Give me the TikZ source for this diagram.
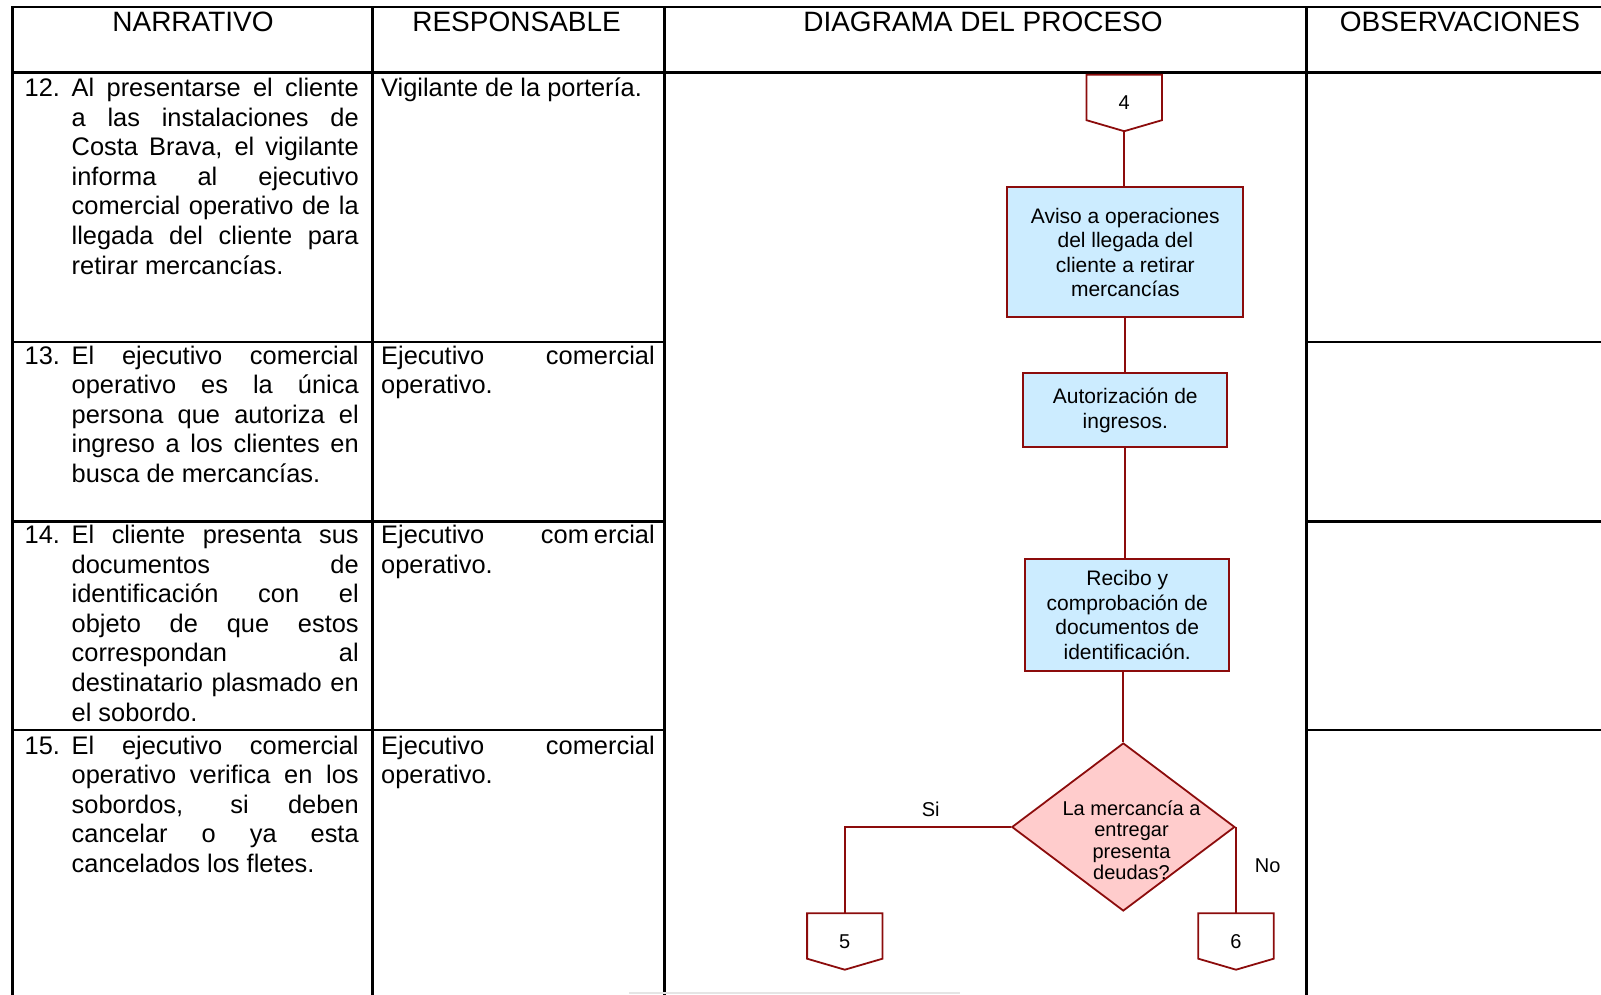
\documentclass[tikz,border=0pt]{standalone}
\usepackage{fontspec}
\setmainfont{Liberation Sans}
\usetikzlibrary{shapes.geometric}

\definecolor{flowred}{RGB}{140,12,12}
\definecolor{procblue}{RGB}{204,236,255}
\definecolor{decpink}{RGB}{255,204,204}

% justified line of a numbered narrative item (indented under the number)
\newcommand\narline[1]{\hspace*{47pt}\makebox[287pt][s]{#1}\\}
\newcommand\narfirst[2]{\makebox[47pt][l]{#1}\makebox[287pt][s]{#2}\\}
\newcommand\narlast[1]{\hspace*{47pt}#1}
\newcommand\respline[1]{\makebox[273.5pt][s]{#1}\\}

\tikzset{
  grid/.style={line width=2.9pt, black, line cap=rect},
  flow/.style={draw=flowred, line width=1.8pt},
  head/.style={anchor=base, inner sep=0pt, font=\fontsize{28}{30}\selectfont},
  cell/.style={anchor=base west, inner sep=0pt, font=\fontsize{25.4}{29.6}\selectfont},
  proc/.style={flow, fill=procblue, inner sep=0pt, align=center,
               font=\fontsize{21}{24.5}\selectfont},
  decision/.style={diamond, flow, fill=decpink, inner sep=0pt,
               minimum width=223pt, minimum height=168pt},
  offpage/.style={inner sep=0pt, minimum width=75pt, minimum height=56pt,
               font=\fontsize{20}{22}\selectfont},
  flowlabel/.style={inner sep=0pt, font=\fontsize{20}{22}\selectfont}
}

\begin{document}
\begin{tikzpicture}[x=1pt, y=-1pt]
\useasboundingbox (0,0) rectangle (1601,995);

% ---- table grid ----
\draw[grid] (12.3,7) -- (1601,7);
\draw[grid] (12.3,72.5) -- (1601,72.5);
\foreach \yy in {342,521.7,730}{
  \draw[grid] (12.3,\yy) -- (664.7,\yy);
  \draw[grid] (1306.9,\yy) -- (1601,\yy);
}
\foreach \xx in {12.3,372.7,664.7,1306.9}{
  \draw[grid] (\xx,7) -- (\xx,995);
}
\draw[black!10, line width=1.5pt] (629,993) -- (960,993);

% ---- header ----
\node[head] (hnar) at (193,31.5) {NARRATIVO};
\node[head] (hres) at (516.6,31.5) {RESPONSABLE};
\node[head] (hdia) at (983,31.5) {DIAGRAMA DEL PROCESO};
\node[head] (hobs) at (1460,31.5) {OBSERVACIONES};

% ---- narrative column ----
\node[cell] (n12) at (24.5,96.5) {\parbox[t]{334pt}{%
  \narfirst{12.}{Al presentarse el cliente}
  \narline{a las instalaciones de}
  \narline{Costa Brava, el vigilante}
  \narline{informa al ejecutivo}
  \narline{comercial operativo de la}
  \narline{llegada del cliente para}
  \narlast{retirar mercancías.}}};

\node[cell] (n13) at (24.5,364) {\parbox[t]{334pt}{%
  \narfirst{13.}{El ejecutivo comercial}
  \narline{operativo es la única}
  \narline{persona que autoriza el}
  \narline{ingreso a los clientes en}
  \narlast{busca de mercancías.}}};

\node[cell] (n14) at (24.5,543.5) {\parbox[t]{334pt}{%
  \narfirst{14.}{El cliente presenta sus}
  \narline{documentos de}
  \narline{identificación con el}
  \narline{objeto de que estos}
  \narline{correspondan al}
  \narline{destinatario plasmado en}
  \narlast{el sobordo.}}};

\node[cell] (n15) at (24.5,754) {\parbox[t]{334pt}{%
  \narfirst{15.}{El ejecutivo comercial}
  \narline{operativo verifica en los}
  \narline{sobordos, si deben}
  \narline{cancelar o ya esta}
  \narlast{cancelados los fletes.}}};

% ---- responsible column ----
\node[cell] (r12) at (381,96.5) {Vigilante de la portería.};
\node[cell] (r13) at (381,364) {\parbox[t]{273.5pt}{%
  \respline{Ejecutivo comercial}operativo.}};
\node[cell] (r14) at (381,543.5) {\parbox[t]{273.5pt}{%
  \respline{Ejecutivo\hfill com\hspace{5pt}ercial}operativo.}};
\node[cell] (r15) at (381,754) {\parbox[t]{273.5pt}{%
  \respline{Ejecutivo comercial}operativo.}};

% ---- process diagram ----
\node[offpage] (c4) at (1124.2,103) {4};
\node[proc, minimum width=236pt, minimum height=130pt] (aviso) at (1125.3,252.3)
  {Aviso a operaciones\\del llegada del\\cliente a retirar\\mercancías};
\node[proc, minimum width=204pt, minimum height=74pt] (autor) at (1125.3,410.3)
  {Autorización de\\ingresos.};
\node[proc, minimum width=204.3pt, minimum height=111.7pt] (recibo) at (1127.2,615.2)
  {Recibo y\\comprobación de\\documentos de\\identificación.};
\node[decision] (deuda) at (1123.3,827) {};
\node[flowlabel, align=center, font=\fontsize{20}{21.5}\selectfont] (deudatxt) at (1131.5,840)
  {La mercancía a\\entregar\\presenta\\deudas?};
\node[offpage] (c5) at (844.8,941.5) {5};
\node[offpage] (c6) at (1236,941.5) {6};

% off-page connector outlines
\foreach \n in {c4,c5,c6}{
  \draw[flow, line join=miter] (\n.north west) -- (\n.north east)
    -- ([yshift=11pt]\n.south east) -- (\n.south)
    -- ([yshift=11pt]\n.south west) -- cycle;
}

% connectors
\draw[flow] (c4.south) -- (c4.south |- aviso.north);
\draw[flow] (aviso.south) -- (aviso.south |- autor.north);
\draw[flow] (autor.south) -- (autor.south |- recibo.north);
\draw[flow] (deuda.north |- recibo.south) -- (deuda.north);
\draw[flow] (deuda.west) -| (c5.north);
\draw[flow] (deuda.east) -- (deuda.east |- c6.north);

\node[flowlabel] (si) at (930.7,809.3) {Si};
\node[flowlabel] (no) at (1267.7,866) {No};
\end{tikzpicture}
\end{document}
